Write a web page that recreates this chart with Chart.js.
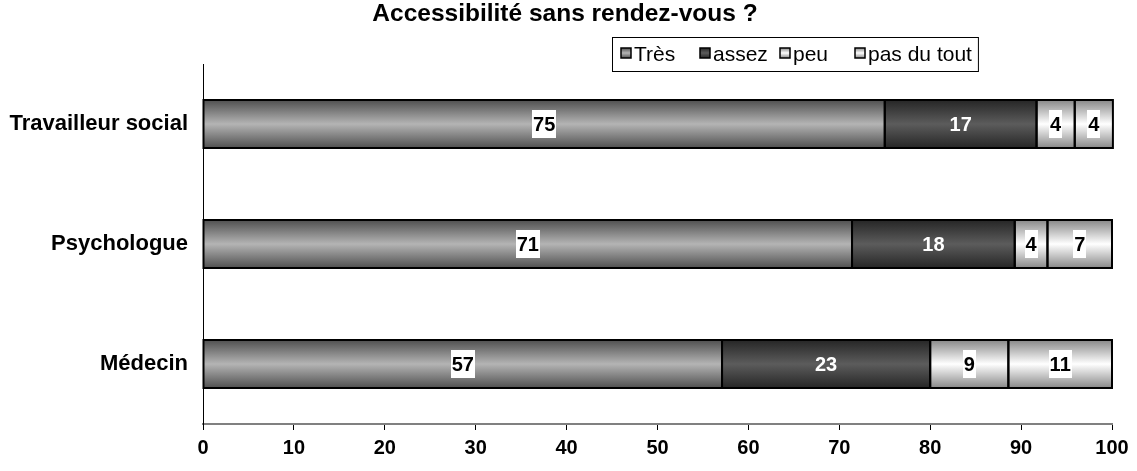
<!DOCTYPE html>
<html>
<head>
<meta charset="utf-8">
<script src="https://cdn.jsdelivr.net/npm/chart.js@4.4.1/dist/chart.umd.min.js"></script>
<style>
html, body { margin: 0; padding: 0; background: #fff; }
#wrap { width: 1137px; height: 471px; }
</style>
</head>
<body>
<div id="wrap"><canvas id="chart"></canvas></div>
<script>
// data (percent of respondents)
const chartTitle = 'Accessibilité sans rendez-vous ?';
const categories = ['Travailleur social', 'Psychologue', 'Médecin'];
const seriesNames = ['Très', 'assez', 'peu', 'pas du tout'];
const tres = [75, 71.4, 57.1];
const assez = [16.7, 17.9, 22.9];
const peu = [4.2, 3.6, 8.6];
const pasDuTout = [4.2, 7.1, 11.4];
const xTickValues = [0, 10, 20, 30, 40, 50, 60, 70, 80, 90, 100];

// edge / centre colours of the vertical gradient for each series
const gradientStops = [
    ['#505050', '#b4b4b4'],
    ['#262626', '#5c5c5c'],
    ['#888888', '#ffffff'],
    ['#888888', '#ffffff']
];
const legendOffsets = [621, 700, 780, 855];

function makeGradient(ctx, top, bottom, stops) {
    const g = ctx.createLinearGradient(0, top, 0, bottom);
    g.addColorStop(0, stops[0]);
    g.addColorStop(0.5, stops[1]);
    g.addColorStop(1, stops[0]);
    return g;
}

function barFill(stops) {
    return function(context) {
        const chart = context.chart;
        const yScale = chart.scales.y;
        if (!yScale || context.dataIndex === undefined || !chart.chartArea) return stops[1];
        const center = yScale.getPixelForValue(context.dataIndex);
        const half = yScale.height / categories.length * 0.4 / 2;
        return makeGradient(chart.ctx, center - half, center + half, stops);
    };
}

// black outlines drawn on top so that neighbouring segments share one 2px line
const segmentOutlines = {
    id: 'segmentOutlines',
    afterDatasetsDraw(chart) {
        const ctx = chart.ctx;
        ctx.save();
        ctx.strokeStyle = '#000';
        ctx.lineWidth = 2;
        chart.data.datasets.forEach((ds, di) => {
            chart.getDatasetMeta(di).data.forEach(bar => {
                const h = bar.height;
                ctx.strokeRect(bar.base, bar.y - h / 2, bar.x - bar.base, h);
            });
        });
        ctx.restore();
    }
};

const segmentLabels = {
    id: 'segmentLabels',
    afterDatasetsDraw(chart) {
        const ctx = chart.ctx;
        ctx.save();
        ctx.font = 'bold 20px Arial';
        ctx.textAlign = 'center';
        ctx.textBaseline = 'middle';
        chart.data.datasets.forEach((ds, di) => {
            chart.getDatasetMeta(di).data.forEach((bar, i) => {
                const txt = String(Math.round(ds.data[i]));
                const x = (bar.x + bar.base) / 2;
                const y = bar.y;
                if (di === 1) {
                    ctx.fillStyle = '#fff';
                } else {
                    const w = ctx.measureText(txt).width + 2;
                    ctx.fillStyle = '#fff';
                    ctx.fillRect(Math.round(x - w / 2), Math.round(y - 14), Math.round(w), 28);
                    ctx.fillStyle = '#000';
                }
                ctx.fillText(txt, x, y + 1);
            });
        });
        ctx.restore();
    }
};

// title and boxed legend, placed like the original
const headerPlugin = {
    id: 'header',
    afterDraw(chart) {
        const ctx = chart.ctx;
        ctx.save();
        ctx.fillStyle = '#000';
        ctx.font = 'bold 24.5px Arial';
        ctx.textAlign = 'center';
        ctx.textBaseline = 'middle';
        ctx.fillText(chartTitle, 565, 14);

        ctx.textAlign = 'left';
        ctx.font = '21px Arial';
        const top = 37, height = 34, left = 612;
        const lastText = ctx.measureText(chart.data.datasets[3].label).width;
        const right = legendOffsets[3] + 15 + lastText + 4;
        ctx.fillStyle = '#fff';
        ctx.fillRect(left, top, right - left, height);
        ctx.strokeStyle = '#000';
        ctx.lineWidth = 1;
        ctx.strokeRect(left + 0.5, top + 0.5, right - left, height);
        chart.data.datasets.forEach((ds, i) => {
            const mx = legendOffsets[i];
            const my = top + 11;
            ctx.fillStyle = makeGradient(ctx, my, my + 10, gradientStops[i]);
            ctx.fillRect(mx, my, 10, 10);
            ctx.lineWidth = 1.5;
            ctx.strokeRect(mx, my, 10, 10);
            ctx.fillStyle = '#000';
            ctx.fillText(ds.label, mx + 13, top + height / 2 + 1);
        });
        ctx.restore();
    }
};

const seriesValues = [tres, assez, peu, pasDuTout];

const chart = new Chart(document.getElementById('chart'), {
    type: 'bar',
    data: {
        labels: categories,
        datasets: seriesNames.map((name, i) => ({
            label: name,
            data: seriesValues[i],
            backgroundColor: barFill(gradientStops[i]),
            borderWidth: 0,
            categoryPercentage: 0.4,
            barPercentage: 1
        }))
    },
    options: {
        indexAxis: 'y',
        responsive: true,
        maintainAspectRatio: false,
        animation: false,
        layout: {
            padding: { left: 0, right: 25, top: 64, bottom: 5 }
        },
        plugins: {
            legend: { display: false },
            tooltip: { enabled: false },
            title: { display: false }
        },
        scales: {
            x: {
                stacked: true,
                min: 0,
                max: 100,
                afterBuildTicks: function(scale) {
                    scale.ticks = xTickValues.map(v => ({ value: v }));
                },
                grid: { drawOnChartArea: false, drawTicks: true, tickLength: 6, color: '#000' },
                border: { display: true, color: '#808080', width: 2 },
                ticks: {
                    color: '#000',
                    padding: 6,
                    maxRotation: 0,
                    font: { family: 'Arial', size: 20, weight: 'bold' }
                }
            },
            y: {
                stacked: true,
                grid: { display: false, drawTicks: false },
                border: { display: true, color: '#000', width: 1 },
                afterFit: function(scale) { scale.width = 203; },
                ticks: {
                    color: '#000',
                    padding: 15,
                    font: { family: 'Arial', size: 22, weight: 'bold' }
                }
            }
        }
    },
    plugins: [segmentOutlines, segmentLabels, headerPlugin]
});
</script>
</body>
</html>
